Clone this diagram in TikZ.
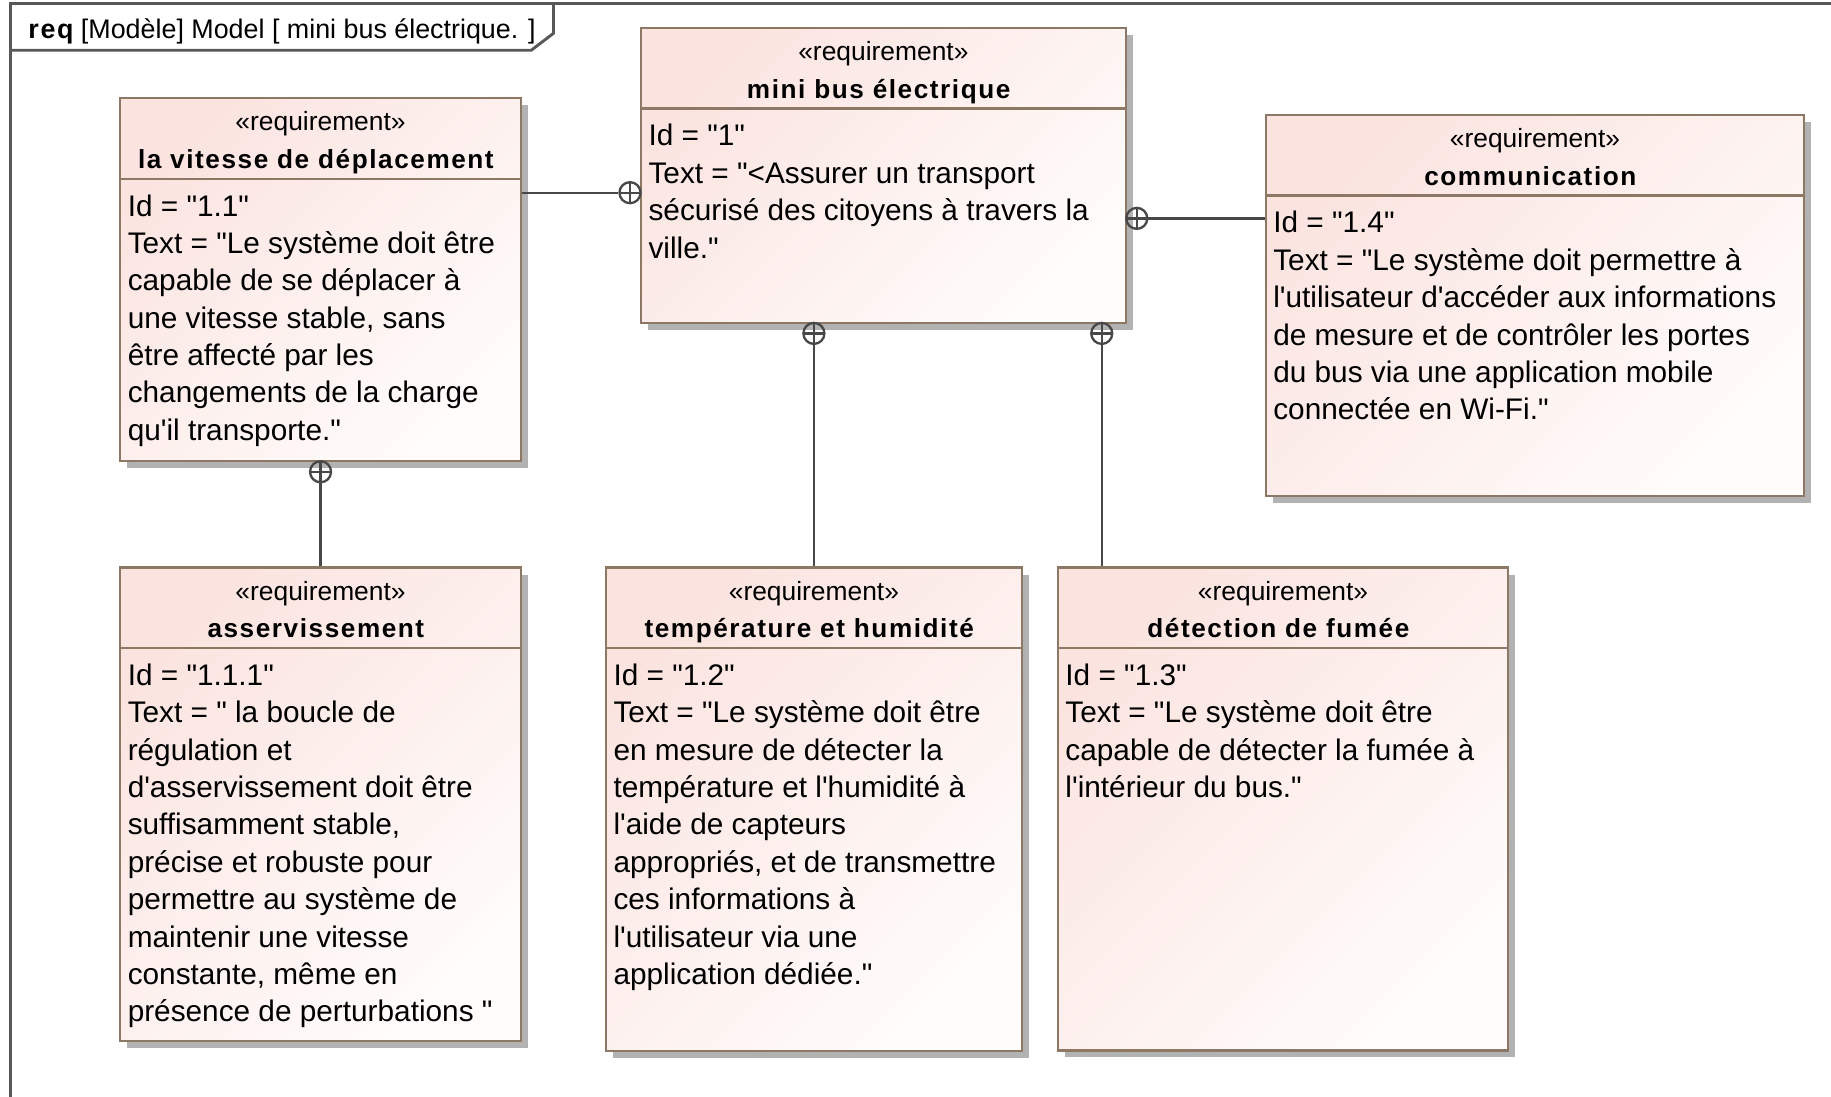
\documentclass[tikz,border=0pt]{standalone}
\usepackage{fontspec}
\newfontfamily\umlfont{Liberation Sans}
\newfontfamily\umlnamefont{Liberation Sans}[LetterSpace=6]
\usetikzlibrary{shadows,fit,calc}

\definecolor{reqborder}{RGB}{141,119,101}
\definecolor{reqtop}{RGB}{251,228,224}
\definecolor{reqbottom}{RGB}{255,252,251}
\definecolor{shadowgray}{RGB}{178,178,178}
\definecolor{linegray}{RGB}{72,72,72}
\definecolor{framegray}{RGB}{88,88,88}

\tikzset{
  reqbox/.style={draw=reqborder, line width=1pt, top color=reqtop, bottom color=reqbottom,
    shading angle=45, inner sep=0pt,
    general shadow={fill=shadowgray, shadow xshift=3pt, shadow yshift=-3pt}},
  sepline/.style={draw=reqborder, line width=1pt},
  stereo/.style={anchor=base, inner sep=0pt, font=\umlfont\fontsize{11.3pt}{13pt}\selectfont},
  rname/.style={anchor=base, inner sep=0pt, font=\umlnamefont\bfseries\fontsize{11.2pt}{13pt}\selectfont},
  bodytext/.style={anchor=base west, inner sep=0pt, font=\umlfont\fontsize{12.75pt}{16pt}\selectfont},
  conn/.style={draw=linegray, line width=1pt},
  frameline/.style={draw=framegray, line width=1.25pt},
  cplus/.style={circle, draw=linegray, line width=1pt, minimum size=9pt, inner sep=0pt,
    path picture={\draw[linegray, line width=1pt]
      (path picture bounding box.north) -- (path picture bounding box.south)
      (path picture bounding box.west) -- (path picture bounding box.east);}}
}

% #1 name, #2 x1, #3 y1, #4 x2, #5 y2, #6 requirement name, #7 property lines
\newcommand{\requirementblock}[7]{%
  \node[reqbox, fit={(#2,#3)(#4,#5)}] (#1) {};
  \draw[sepline] ($(#1.north west)+(0,70)$) -- ($(#1.north east)+(0,70)$);
  \node[stereo] (#1-st) at ({(#2+#4)/2}, {#3+28}) {«requirement»};
  \node[rname] (#1-nm) at ({(#2+#4)/2-4}, {#3+60}) {#6};
  \foreach \ln [count=\k] in {#7}
    \node[bodytext] (#1-\k) at ({#2+6}, {#3+101+32*(\k-1)}) {\ln};
}

\begin{document}
\begin{tikzpicture}[x=0.5pt, y=-0.5pt]
\useasboundingbox (0,0) rectangle (1568,939);

% diagram frame with its name tab
\draw[frameline] (9,945) -- (9,3) -- (1575,3);
\draw[frameline] (9,43) -- (455,43) -- (474,28.5) -- (474,3);
\node[anchor=base west, inner sep=0pt, font=\umlfont\fontsize{11.5pt}{14pt}\selectfont] (title) at (24,33)
  {{\umlnamefont\bfseries req} [Modèle] Model [ mini bus électrique. ]};

\requirementblock{B}{549}{24}{964}{276.5}{mini bus électrique}
  {{Id = "1"},{Text = "<Assurer un transport},{sécurisé des citoyens à travers la},{ville."}}

\requirementblock{A}{103}{84}{446}{395}{la vitesse de déplacement}
  {{Id = "1.1"},{Text = "Le système doit être},{capable de se déplacer à},{une vitesse stable, sans},
   {être affecté par les},{changements de la charge},{qu'il transporte."}}

\requirementblock{C}{1084}{98.5}{1545}{425}{communication}
  {{Id = "1.4"},{Text = "Le système doit permettre à},{l'utilisateur d'accéder aux informations},
   {de mesure et de contrôler les portes},{du bus via une application mobile},{connectée en Wi-Fi."}}

\requirementblock{D}{103}{486}{446}{891.5}{asservissement}
  {{Id = "1.1.1"},{Text = " la boucle de},{régulation et},{d'asservissement doit être},
   {suffisamment stable,},{précise et robuste pour},{permettre au système de},
   {maintenir une vitesse},{constante, même en},{présence de perturbations "}}

\requirementblock{E}{519}{486}{875}{900}{température et humidité}
  {{Id = "1.2"},{Text = "Le système doit être},{en mesure de détecter la},{température et l'humidité à},
   {l'aide de capteurs},{appropriés, et de transmettre},{ces informations à},
   {l'utilisateur via une},{application dédiée."}}

\requirementblock{F}{906}{486}{1291.5}{899.5}{détection de fumée}
  {{Id = "1.3"},{Text = "Le système doit être},{capable de détecter la fumée à},{l'intérieur du bus."}}

% containment relations (circle-plus on the owning requirement)
\node[cplus] (cAB) at (539.5,165) {};
\draw[conn] (A.east |- cAB.west) -- (cAB.west);

\node[cplus] (cBC) at (973.5,187) {};
\draw[conn] (cBC.east) -- (cBC.east -| C.west);

\node[cplus] (cBE) at (697,285.5) {};
\draw[conn] (cBE.south) -- (cBE.south |- E.north);

\node[cplus] (cBF) at (943.5,285.5) {};
\draw[conn] (cBF.south) -- (cBF.south |- F.north);

\node[cplus] (cAD) at (274.5,404) {};
\draw[conn] (cAD.south) -- (cAD.south |- D.north);
\end{tikzpicture}
\end{document}
